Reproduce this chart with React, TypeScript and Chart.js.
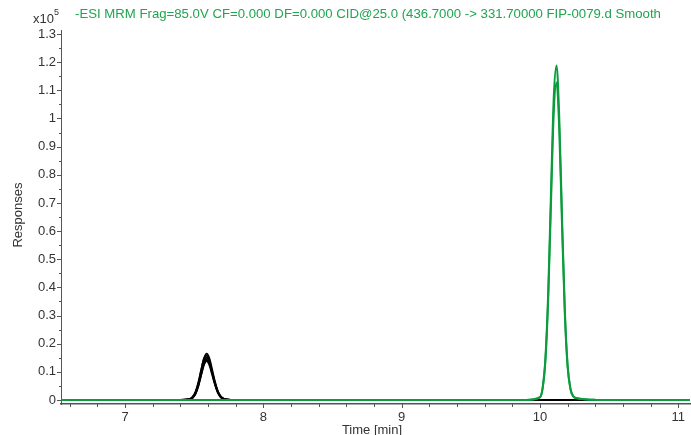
import React, { useEffect, useRef } from "react";
import { Chart, registerables } from "chart.js";

Chart.register(...registerables);

// Time axis (min) and responses (x10^5)
const blackTimes = [6.5, 7.4, 7.47, 7.49, 7.51, 7.53, 7.55, 7.57, 7.59, 7.61, 7.63, 7.65, 7.67, 7.69, 7.71, 7.74, 7.8, 9.8, 10.0, 10.4, 11.1];
const black1 = [0, 0, 0.003, 0.010, 0.027, 0.059, 0.104, 0.146, 0.165, 0.148, 0.108, 0.066, 0.033, 0.014, 0.005, 0.001, 0, 0, 0, 0, 0];
const black2 = [0, 0, 0.004, 0.012, 0.030, 0.062, 0.106, 0.145, 0.158, 0.138, 0.098, 0.058, 0.028, 0.011, 0.004, 0.001, 0, 0, 0, 0, 0];
const black3 = [0, 0, 0.003, 0.010, 0.026, 0.055, 0.096, 0.134, 0.150, 0.136, 0.099, 0.061, 0.031, 0.013, 0.005, 0.001, 0, 0, 0, 0, 0];
const black4 = [0, 0, 0.002, 0.008, 0.022, 0.049, 0.088, 0.126, 0.143, 0.131, 0.097, 0.060, 0.031, 0.013, 0.005, 0.001, 0, 0, 0, 0, 0];
const black5 = [0, 0, 0.003, 0.009, 0.024, 0.051, 0.089, 0.124, 0.138, 0.124, 0.090, 0.055, 0.027, 0.011, 0.004, 0.001, 0, 0, 0, 0, 0];

const greenTimes = [6.5, 9.9, 10.0, 10.02, 10.04, 10.06, 10.08, 10.1, 10.12, 10.14, 10.16, 10.18, 10.2, 10.22, 10.24, 10.27, 10.32, 10.38, 10.42, 11.1];
const green1 = [0, 0, 0.010, 0.046, 0.153, 0.386, 0.741, 1.077, 1.188, 1.000, 0.645, 0.320, 0.125, 0.042, 0.014, 0.006, 0.003, 0.001, 0, 0];
const green2 = [0, 0, 0.009, 0.042, 0.142, 0.362, 0.700, 1.022, 1.128, 0.955, 0.615, 0.305, 0.118, 0.040, 0.013, 0.006, 0.003, 0.001, 0, 0];

const xTickLabels = ["7", "8", "9", "10", "11"];
const yTickLabels = ["0", "0.1", "0.2", "0.3", "0.4", "0.5", "0.6", "0.7", "0.8", "0.9", "1", "1.1", "1.2", "1.3"];

const TITLE = "-ESI MRM Frag=85.0V CF=0.000 DF=0.000 CID@25.0 (436.7000 -> 331.70000 FIP-0079.d Smooth";
const FONT = "'Liberation Sans', Arial, sans-serif";
const GREEN = "#0c9c3e";
const TITLE_GREEN = "#1fa64f";
const TEXT = "#333333";

const toPts = (xs: number[], ys: number[]) => xs.map((x, i) => ({ x, y: ys[i] }));

const overlay = {
  id: "overlay",
  afterDraw(chart: any) {
    const ctx = chart.ctx as CanvasRenderingContext2D;
    const xs = chart.scales.x;
    const ys = chart.scales.y;
    const area = chart.chartArea;
    ctx.save();
    ctx.strokeStyle = "#555";
    ctx.lineWidth = 1;
    // y ticks
    for (let i = 0; i <= 26; i++) {
      const v = i * 0.05;
      const py = Math.round(ys.getPixelForValue(v)) + 0.5;
      const len = i % 2 === 0 ? 4 : 2;
      ctx.beginPath();
      ctx.moveTo(area.left - len, py);
      ctx.lineTo(area.left, py);
      ctx.stroke();
    }
    // x ticks
    for (let i = 0; i <= 23; i++) {
      const v = 6.6 + i * 0.2;
      if (v > xs.max) break;
      const px = Math.round(xs.getPixelForValue(v)) + 0.5;
      const major = Math.abs(v - Math.round(v)) < 1e-6;
      const len = major ? 4 : 3;
      ctx.beginPath();
      ctx.moveTo(px, area.bottom);
      ctx.lineTo(px, area.bottom + len);
      ctx.stroke();
    }
    ctx.fillStyle = TEXT;
    ctx.font = `13px ${FONT}`;
    // y labels
    ctx.textAlign = "right";
    ctx.textBaseline = "middle";
    yTickLabels.forEach((t, i) => {
      ctx.fillText(t, area.left - 5, ys.getPixelForValue(i * 0.1));
    });
    // x labels
    ctx.textAlign = "center";
    ctx.textBaseline = "top";
    xTickLabels.forEach((t) => {
      ctx.fillText(t, xs.getPixelForValue(Number(t)), area.bottom + 7);
    });
    // axis titles
    ctx.fillText("Time [min]", 372, 424);
    ctx.save();
    ctx.translate(18, 215);
    ctx.rotate(-Math.PI / 2);
    ctx.textBaseline = "middle";
    ctx.fillText("Responses", 0, 0);
    ctx.restore();
    // multiplier
    ctx.textAlign = "left";
    ctx.textBaseline = "middle";
    ctx.fillText("x10", 33, 19);
    ctx.font = `9px ${FONT}`;
    ctx.fillText("5", 54, 13);
    // title
    ctx.fillStyle = TITLE_GREEN;
    ctx.font = `13.2px ${FONT}`;
    ctx.fillText(TITLE, 75, 14);
    ctx.restore();
  },
};

export default function App() {
  const ref = useRef<HTMLCanvasElement>(null);
  useEffect(() => {
    if (!ref.current) return;
    const blackSets = [black1, black2, black3, black4, black5].map((d) => ({
      data: toPts(blackTimes, d),
      borderColor: "#000000",
      borderWidth: 1.8,
      pointRadius: 0,
      cubicInterpolationMode: "monotone" as const,
      order: 2,
    }));
    const greenSets = [green1, green2].map((d) => ({
      data: toPts(greenTimes, d),
      borderColor: GREEN,
      borderWidth: 2,
      pointRadius: 0,
      cubicInterpolationMode: "monotone" as const,
      order: 1,
    }));
    const chart = new Chart(ref.current, {
      type: "line",
      data: { datasets: [...greenSets, ...blackSets] as any },
      options: {
        animation: false,
        responsive: false,
        devicePixelRatio: 1,
        layout: { padding: { top: 30, right: 1, left: 0, bottom: 0 } },
        plugins: { legend: { display: false }, tooltip: { enabled: false }, title: { display: false } },
        scales: {
          x: {
            type: "linear",
            min: 6.537,
            max: 11.085,
            grid: { display: false, drawTicks: false },
            border: { display: true, color: "#555", width: 1.5 },
            ticks: { display: false },
            afterFit: (s: any) => { s.height = 31; },
          },
          y: {
            type: "linear",
            min: -0.0142,
            max: 1.3142,
            grid: { display: false, drawTicks: false },
            border: { display: true, color: "#555", width: 1 },
            ticks: { display: false },
            afterFit: (s: any) => { s.width = 61; },
          },
        },
      },
      plugins: [overlay],
    });
    return () => chart.destroy();
  }, []);
  return (
    <div style={{ position: "absolute", left: 0, top: 0, width: 691, height: 435, background: "#fff" }}>
      <canvas ref={ref} width={691} height={435} />
    </div>
  );
}
